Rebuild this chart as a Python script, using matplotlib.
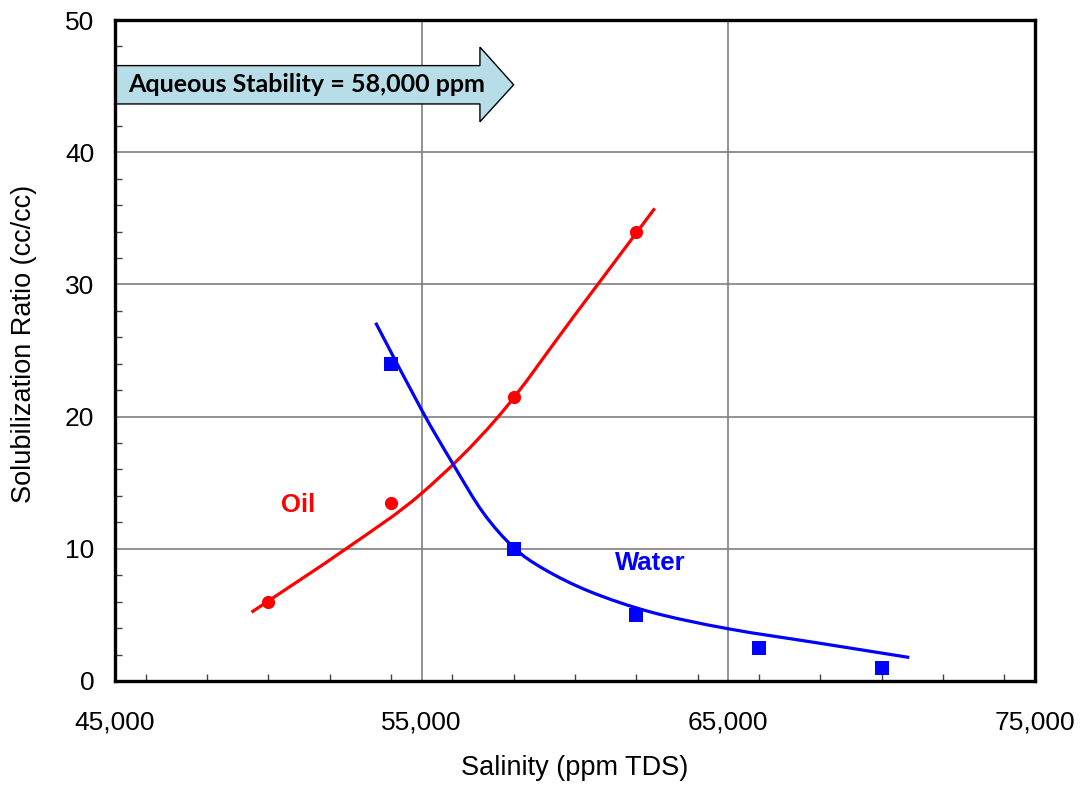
import numpy as np
import matplotlib
matplotlib.use("Agg")
import matplotlib.pyplot as plt
from matplotlib.path import Path
from matplotlib.patches import PathPatch, Polygon
from matplotlib.ticker import MultipleLocator, FixedLocator, FuncFormatter

# Measured solubilization ratios
salinity_oil = [50000, 54000, 58000, 62000]
ratio_oil = [6.0, 13.5, 21.5, 34.0]
salinity_water = [54000, 58000, 62000, 66000, 70000]
ratio_water = [24.0, 10.0, 5.0, 2.5, 1.0]

# Nodes of the hand-drawn trend curves
oil_trend_x = [49450, 52500, 55000, 57500, 60000, 62600]
oil_trend_y = [5.2, 9.95, 14.2, 20.0, 27.7, 35.75]
water_trend_x = [53500, 55000, 56000, 57000, 58000, 59000, 60500, 62500, 65000,
                 68000, 70900]
water_trend_y = [27.1, 20.5, 16.5, 12.75, 10.1, 8.45, 6.75, 5.2, 3.95,
                 2.85, 1.78]

stability_ppm = 58000
stability_label = "Aqueous Stability = 58,000 ppm"

x_ticks = [45000, 55000, 65000, 75000]
y_ticks = [0, 10, 20, 30, 40, 50]

RED = "#ff0000"
BLUE = "#0000ff"
GRID = "#7f7f7f"

plt.rcParams["font.family"] = ["Liberation Sans", "DejaVu Sans"]


def smooth_path(xs, ys):
    """Catmull-Rom curve through the nodes, expressed as cubic Bezier segments."""
    pts = np.column_stack([xs, ys]).astype(float)
    ext = np.vstack([2 * pts[0] - pts[1], pts, 2 * pts[-1] - pts[-2]])
    verts = [tuple(pts[0])]
    codes = [Path.MOVETO]
    for i in range(1, len(ext) - 2):
        p0, p1, p2, p3 = ext[i - 1], ext[i], ext[i + 1], ext[i + 2]
        c1 = p1 + (p2 - p0) / 6.0
        c2 = p2 - (p3 - p1) / 6.0
        verts += [tuple(c1), tuple(c2), tuple(p2)]
        codes += [Path.CURVE4] * 3
    return Path(verts, codes)


fig = plt.figure(figsize=(10.8, 7.87), dpi=100)
ax = fig.add_axes([115 / 1080, 1 - 681 / 787, 920 / 1080, 661 / 787])

ax.set_xlim(x_ticks[0], x_ticks[-1])
ax.set_ylim(y_ticks[0], y_ticks[-1])

ax.xaxis.set_major_locator(FixedLocator(x_ticks))
ax.xaxis.set_minor_locator(MultipleLocator(2000))
ax.yaxis.set_major_locator(FixedLocator(y_ticks))
ax.yaxis.set_minor_locator(MultipleLocator(2))
ax.xaxis.set_major_formatter(FuncFormatter(lambda v, p: f"{v:,.0f}"))
ax.yaxis.set_major_formatter(FuncFormatter(lambda v, p: f"{v:.0f}"))

ax.grid(True, which="major", color=GRID, linewidth=1.2, zorder=0)
ax.set_axisbelow(True)

ax.tick_params(axis="both", which="both", direction="in", labelsize=19,
               colors="black")
ax.tick_params(axis="x", which="major", length=0, pad=21)
ax.tick_params(axis="y", which="major", length=0, pad=15)
ax.tick_params(axis="both", which="minor", length=5, width=1.0, color="#444444")

for sp in ax.spines.values():
    sp.set_linewidth(2.4)
    sp.set_color("black")
    sp.set_zorder(6)

# Trend curves
ax.add_patch(PathPatch(smooth_path(oil_trend_x, oil_trend_y), fill=False,
                       edgecolor=RED, linewidth=2.3, capstyle="butt", zorder=3))
ax.add_patch(PathPatch(smooth_path(water_trend_x, water_trend_y), fill=False,
                       edgecolor=BLUE, linewidth=2.3, capstyle="butt", zorder=3))

# Measured points
ax.plot(salinity_oil, ratio_oil, linestyle="none", marker="o", markersize=9.5,
        color=RED, markeredgewidth=0, zorder=4)
ax.plot(salinity_water, ratio_water, linestyle="none", marker="s", markersize=9.5,
        color=BLUE, markeredgewidth=0, zorder=4)

ax.text(50970, 13.3, "Oil", color=RED, fontsize=18.5, fontweight="bold",
        ha="center", va="center")
ax.text(62450, 8.9, "Water", color=BLUE, fontsize=18.5, fontweight="bold",
        ha="center", va="center")

# Block arrow pointing to the aqueous stability limit
body_top, body_bot = 46.55, 43.65
head_top, head_bot = 47.95, 42.3
head_base = 56900
tip_y = (body_top + body_bot) / 2
arrow = Polygon([(x_ticks[0], body_bot), (x_ticks[0], body_top),
                 (head_base, body_top), (head_base, head_top),
                 (stability_ppm, tip_y), (head_base, head_bot),
                 (head_base, body_bot)],
                closed=True, facecolor="#b7dee8", edgecolor="black",
                linewidth=1.0, zorder=5)
ax.add_patch(arrow)
ax.text(51260, tip_y, stability_label, fontsize=18, fontweight="bold",
        family=["Lato", "DejaVu Sans"], ha="center", va="center", zorder=6)

fig.text(575 / 1080, 1 - 768 / 787, "Salinity (ppm TDS)", fontsize=19.5,
         ha="center", va="center")
fig.text(24 / 1080, 1 - 344 / 787, "Solubilization Ratio (cc/cc)", fontsize=19.5,
         rotation=90, ha="center", va="center")

fig.savefig("out.png", dpi=100, facecolor="white")
